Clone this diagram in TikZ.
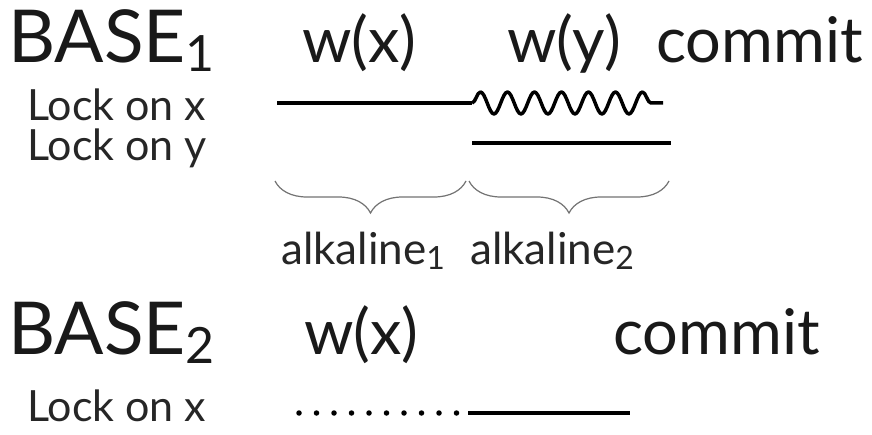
\documentclass[tikz,border=0pt]{standalone}
\usepackage{fontspec}
\setmainfont{Lato}
\usetikzlibrary{decorations.pathmorphing,decorations.pathreplacing}
\newcommand\subdig[2]{\raisebox{-#2}{\fontsize{#1}{#1}\selectfont 1}}
\newcommand\subtwo[2]{\raisebox{-#2}{\fontsize{#1}{#1}\selectfont 2}}
\begin{document}
\begin{tikzpicture}[x=1pt,y=-1pt,
  big/.style={font=\fontsize{73}{75}\selectfont, inner sep=0pt, anchor=base west, text=black!90},
  opn/.style={font=\fontsize{63}{65}\selectfont, inner sep=0pt, anchor=base west, text=black!90},
  lock/.style={font=\fontsize{43}{45}\selectfont, inner sep=0pt, anchor=base west, text=black!85},
  lab/.style={font=\fontsize{44}{46}\selectfont, inner sep=0pt, anchor=base west, text=black!85},
  bar/.style={line width=4pt},
  wave/.style={line width=3.5pt, line join=round, decorate, decoration={snake, segment length=27pt, amplitude=11pt}},
  dots/.style={line width=5.5pt, line cap=round, dash pattern=on 0pt off 17.5pt},
  brc/.style={draw=black!55, line width=1.2pt, decorate, decoration={brace, mirror, amplitude=32pt}}
]
\useasboundingbox (0,0) rectangle (872,435);
\fill[white] (0,0) rectangle (872,435);

% row 1
\node[big] (base1) at (8,63) {BASE\subdig{50pt}{9pt}};
\node[opn] (wx1) at (302,63) {w(x)};
\node[opn] (wy1) at (507,63) {w(y)};
\node[opn] (commit1) at (656,63) {commit};
\node[lock] (lockx1) at (27,121) {Lock on x};
\node[lock] (locky1) at (27,161) {Lock on y};

\coordinate (x1s) at (277,103);
\coordinate (x1m) at (472,103);
\coordinate (x1e) at (663,103);
\coordinate (y1s) at (472,143);
\coordinate (y1e) at (671,143);
\draw[bar] (x1s) -- (x1m);
\draw[wave] (x1m) -- (x1e);
\draw[bar] (y1s) -- (y1e);

\coordinate (b1s) at (275,181);
\coordinate (b1e) at (466,181);
\coordinate (b2s) at (469,181);
\coordinate (b2e) at (669,181);
\draw[brc] (b1s) -- (b1e);
\draw[brc] (b2s) -- (b2e);
\node[lab] (alk1) at (281,265) {alkaline\subdig{32pt}{5pt}};
\node[lab] (alk2) at (470,265) {alkaline\subtwo{32pt}{5pt}};

% row 2
\node[big] (base2) at (8,354) {BASE\subtwo{50pt}{9pt}};
\node[opn] (wx2) at (304,354) {w(x)};
\node[opn] (commit2) at (613,354) {commit};
\node[lock] (lockx2) at (27,421) {Lock on x};

\coordinate (x2s) at (299,413);
\coordinate (x2m) at (468,413);
\coordinate (x2e) at (630,413);
\draw[dots] (x2s) -- (x2m);
\draw[bar] (x2m) -- (x2e);
\end{tikzpicture}
\end{document}
